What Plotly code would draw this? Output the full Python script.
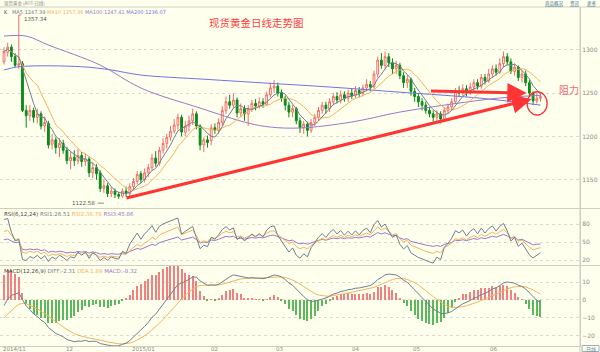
import numpy as np
import plotly.graph_objects as go

# ---------------- data ----------------
opens = [1286,1297,1303,1292,1282,1284,1230,1224,1230,1222,1226,1212,1215,1191,1196,1187,1192,1184,1172,1176,
         1172,1178,1171,1174,1158,1164,1158,1140,1143,1134,1137,1133,1131,1137,1134,1142,1148,1157,1150,1158,
         1164,1175,1169,1184,1192,1199,1206,1213,1222,1205,1212,1218,1226,1212,1190,1196,1195,1210,1207,1216,
         1230,1240,1236,1242,1227,1232,1226,1232,1238,1235,1240,1237,1248,1256,1258,1250,1244,1236,1228,1232,
         1218,1210,1214,1207,1216,1222,1230,1236,1232,1240,1246,1242,1248,1244,1250,1247,1253,1250,1256,1260,
         1257,1272,1288,1282,1292,1285,1278,1282,1270,1262,1266,1252,1246,1240,1236,1230,1226,1222,1226,1220,
         1230,1234,1240,1252,1250,1255,1250,1257,1262,1258,1268,1264,1272,1278,1274,1284,1292,1286,1275,1280,
         1268,1272,1262,1250,1241,1244]
highs = [1303,1308,1306,1296,1340,1287,1236,1236,1233,1232,1229,1223,1218,1203,1199,1198,1196,1188,1182,1184,
         1186,1182,1180,1177,1170,1168,1161,1150,1146,1142,1140,1136,1140,1142,1146,1152,1160,1160,1163,1168,
         1180,1183,1188,1198,1203,1212,1220,1226,1225,1218,1224,1232,1229,1214,1199,1201,1214,1215,1221,1235,
         1246,1248,1250,1245,1238,1236,1236,1242,1243,1245,1244,1252,1262,1265,1262,1254,1247,1240,1236,1234,
         1222,1218,1217,1220,1226,1234,1240,1240,1244,1250,1251,1253,1252,1254,1255,1258,1257,1260,1266,1264,
         1276,1292,1296,1298,1296,1290,1287,1285,1274,1271,1268,1256,1250,1244,1240,1234,1230,1230,1229,1234,
         1238,1244,1256,1258,1260,1259,1262,1266,1266,1272,1272,1278,1282,1283,1290,1298,1296,1290,1284,1282,
         1276,1276,1265,1252,1250,1249]
lows = [1283,1292,1286,1280,1278,1228,1210,1218,1216,1215,1208,1205,1186,1185,1180,1176,1180,1168,1162,1166,
        1168,1165,1166,1153,1152,1150,1136,1135,1130,1130,1129,1128,1129,1130,1131,1138,1145,1146,1147,1153,
        1160,1165,1166,1180,1186,1195,1203,1208,1200,1200,1206,1213,1208,1184,1182,1187,1190,1203,1203,1212,
        1226,1232,1233,1222,1222,1218,1212,1228,1230,1232,1233,1235,1245,1250,1246,1240,1230,1222,1222,1214,
        1204,1203,1200,1204,1212,1218,1226,1226,1228,1236,1238,1238,1240,1240,1243,1244,1245,1246,1252,1252,
        1255,1268,1278,1278,1280,1272,1272,1266,1256,1256,1247,1240,1234,1230,1226,1222,1217,1216,1215,1217,
        1226,1230,1238,1246,1247,1246,1248,1252,1254,1255,1260,1262,1268,1270,1272,1280,1282,1272,1270,1264,
        1262,1258,1246,1236,1238,1240]
closes = [1298,1303,1292,1282,1284,1230,1224,1230,1222,1226,1212,1216,1190,1196,1187,1192,1184,1172,1176,1172,
          1178,1171,1174,1158,1164,1157,1140,1143,1134,1137,1133,1131,1137,1134,1142,1148,1156,1150,1158,1164,
          1175,1169,1184,1192,1199,1206,1213,1222,1205,1212,1218,1226,1212,1190,1196,1193,1210,1207,1216,1230,
          1240,1236,1242,1227,1232,1226,1232,1238,1235,1240,1237,1248,1256,1258,1250,1244,1236,1228,1232,1218,
          1210,1214,1207,1216,1222,1230,1236,1232,1240,1246,1242,1248,1244,1250,1247,1253,1250,1256,1260,1257,
          1272,1288,1282,1292,1285,1278,1282,1270,1262,1266,1252,1246,1240,1236,1230,1226,1222,1226,1220,1230,
          1234,1240,1252,1250,1255,1250,1257,1262,1258,1268,1264,1272,1278,1274,1284,1292,1286,1275,1280,1268,
          1272,1262,1250,1241,1244,1246]

# long moving averages (candle index, value)
ma100_idx = [0, 6, 12, 26, 37, 53, 66, 72, 80, 94, 107, 121, 134, 145]
ma100_val = [1315.7, 1315.7, 1305.4, 1282.3, 1255.8, 1232.7, 1215.4, 1210.8, 1209.7, 1216.6, 1228.1, 1237.3, 1244.3, 1247.4]
ma200_idx = [0, 4, 21, 29, 37, 54, 72, 88, 107, 129, 145]
ma200_val = [1276.6, 1280.4, 1280.4, 1276.6, 1270.8, 1266.0, 1261.2, 1257.0, 1251.0, 1244.0, 1236.1]

# indicator state just before the first candle
ema_seed = {12: 1252.7, 26: 1260.0}
dea_seed = -11.75
rsi_seed = {6: (7.0, 8.0), 12: (5.4, 8.0), 24: (4.3, 8.0)}

month_pos = [0.8, 17.8, 37.6, 56.8, 74.5, 94.9, 111.6, 132.2]
month_txt = ["2014/11", "12", "2015/01", "02", "03", "04", "05", "06"]

price_ticks = [1300, 1250, 1200, 1150]
rsi_ticks = [80, 50, 20]
macd_ticks = [10, 0, -10, -20]

# annotation anchors (candle index, price)
long_arrow = [(32.7, 1128.5), (142.6, 1243.0)]
flat_arrow = [(115.0, 1252.3), (141.3, 1250.0)]
circle_box = [(141.4, 1224.7), (146.8, 1251.5)]

# ---------------- indicators ----------------
N = len(closes)
idx = np.arange(N)
c = np.array(closes, float)
ma5 = np.array([c[max(0, k-4):k+1].mean() for k in range(N)])
ma10 = np.array([c[max(0, k-9):k+1].mean() for k in range(N)])

def sma_cn(x, n, prev):
    out = np.zeros_like(x)
    for k in range(len(x)):
        prev = (x[k] + (n - 1) * prev) / n
        out[k] = prev
    return out

prev_close = np.concatenate([[c[0]], c[:-1]])
d = c - prev_close
def rsi(n):
    up = sma_cn(np.maximum(d, 0), n, rsi_seed[n][0])
    tot = sma_cn(np.abs(d), n, rsi_seed[n][1])
    return up / tot * 100

rsi1, rsi2, rsi3 = rsi(6), rsi(12), rsi(24)

def ema(x, n, prev):
    out = np.zeros_like(x)
    a = 2.0 / (n + 1)
    for k in range(len(x)):
        prev = a * x[k] + (1 - a) * prev
        out[k] = prev
    return out

dif = ema(c, 12, ema_seed[12]) - ema(c, 26, ema_seed[26])
dea = ema(dif, 9, dea_seed)
macd = 2 * (dif - dea)

# ---------------- figure ----------------
BG = "#FFFFEE"
C_MA5 = "#6f8090"
C_MA10 = "#f5b25e"
C_MA100 = "#9a78c8"
C_MA200 = "#6f74e0"
UP = "#f26d6d"
DN = "#0b8a1a"
FONT = "DejaVu Sans"
CJK = "Noto Sans CJK SC"

fig = go.Figure()
fig.add_trace(go.Candlestick(x=idx, open=opens, high=highs, low=lows, close=closes,
                             increasing=dict(line=dict(color=UP, width=1), fillcolor=BG),
                             decreasing=dict(line=dict(color=DN, width=1), fillcolor=DN),
                             whiskerwidth=0, showlegend=False, hoverinfo="skip",
                             xaxis="x", yaxis="y"))
fig.add_trace(go.Scatter(x=ma200_idx, y=ma200_val, mode="lines", line=dict(color=C_MA200, width=1, shape="spline"),
                         showlegend=False, xaxis="x", yaxis="y"))
fig.add_trace(go.Scatter(x=ma100_idx, y=ma100_val, mode="lines", line=dict(color=C_MA100, width=1, shape="spline"),
                         showlegend=False, xaxis="x", yaxis="y"))
fig.add_trace(go.Scatter(x=idx, y=ma10, mode="lines", line=dict(color=C_MA10, width=1),
                         showlegend=False, xaxis="x", yaxis="y"))
fig.add_trace(go.Scatter(x=idx, y=ma5, mode="lines", line=dict(color=C_MA5, width=1),
                         showlegend=False, xaxis="x", yaxis="y"))

# RSI
fig.add_trace(go.Scatter(x=idx, y=rsi3, mode="lines", line=dict(color=C_MA100, width=1), showlegend=False, xaxis="x", yaxis="y2"))
fig.add_trace(go.Scatter(x=idx, y=rsi2, mode="lines", line=dict(color=C_MA10, width=1), showlegend=False, xaxis="x", yaxis="y2"))
fig.add_trace(go.Scatter(x=idx, y=rsi1, mode="lines", line=dict(color=C_MA5, width=1), showlegend=False, xaxis="x", yaxis="y2"))

# MACD
bar_cols = ["#f28080" if v >= 0 else "#5cb85c" for v in macd]
fig.add_trace(go.Bar(x=idx, y=macd, marker=dict(color=bar_cols, line=dict(width=0)), width=0.3,
                     showlegend=False, xaxis="x", yaxis="y3"))
fig.add_trace(go.Scatter(x=idx, y=dea, mode="lines", line=dict(color=C_MA10, width=1), showlegend=False, xaxis="x", yaxis="y3"))
fig.add_trace(go.Scatter(x=idx, y=dif, mode="lines", line=dict(color=C_MA5, width=1), showlegend=False, xaxis="x", yaxis="y3"))

W, H = 600, 352
def py(p):
    return 1 - p / H

grid = dict(showgrid=True, gridcolor="#dcdccc", griddash="dot", gridwidth=1, zeroline=False,
            side="right", ticks="", tickfont=dict(size=6, color="#8a8a8a", family=FONT),
            showline=True, linecolor="#cfcfc0", linewidth=1, fixedrange=True)

fig.update_layout(
    width=W, height=H, margin=dict(l=0, r=0, t=0, b=0),
    paper_bgcolor=BG, plot_bgcolor=BG, bargap=0,
    xaxis=dict(domain=[0, 580 / W], range=[-1.08, 155.68], anchor="y3", showgrid=False, zeroline=False,
               showticklabels=False, ticks="",
               showline=True, linecolor="#cfcfc0", rangeslider=dict(visible=False), fixedrange=True),
    yaxis=dict(domain=[py(208), py(7)], range=[1117.4, 1349.3], tickvals=price_ticks, **grid),
    yaxis2=dict(domain=[py(265), py(209)], range=[11.7, 105], tickvals=rsi_ticks, **grid),
    yaxis3=dict(domain=[py(346), py(266)], range=[-25.6, 18.9], tickvals=macd_ticks, **grid),
)

shapes = []
for yy in [7, 208.5, 265.5]:
    shapes.append(dict(type="line", xref="paper", yref="paper", x0=0, x1=1, y0=py(yy), y1=py(yy),
                       line=dict(color="#cfcfc0", width=1)))
shapes.append(dict(type="line", xref="paper", yref="paper", x0=580 / W, x1=580 / W, y0=0, y1=py(7),
                   line=dict(color="#cfcfc0", width=1)))
shapes.append(dict(type="rect", xref="paper", yref="paper", x0=582 / W, x1=599 / W, y0=py(351.5), y1=py(345.5),
                   line=dict(color="#9ab0c0", width=1)))
shapes.append(dict(type="line", xref="x", yref="y", x0=4, x1=4.7, y0=1340, y1=1340, line=dict(color=UP, width=1)))
shapes.append(dict(type="line", xref="x", yref="y", x0=25.3, x1=27.0, y0=1123, y1=1123, line=dict(color="#888", width=1)))
shapes.append(dict(type="circle", xref="x", yref="y", x0=circle_box[0][0], x1=circle_box[1][0],
                   y0=circle_box[0][1], y1=circle_box[1][1], line=dict(color="#ff3030", width=1.3)))
fig.update_layout(shapes=shapes)

ann = []
def txt(x, y, s, size=6, color="#555", xanchor="left", xref="paper", yref="paper", family=FONT, yanchor="middle"):
    ann.append(dict(x=x, y=y, xref=xref, yref=yref, text=s, showarrow=False, xanchor=xanchor, yanchor=yanchor,
                    font=dict(size=size, color=color, family=family)))

txt(2 / W, py(3.2), "现货黄金 (AUT-日线)", size=4.5, color="#8a8a8a", family=CJK)
txt(543 / W, py(3.2), "<u>商品概况</u>", size=4.5, color="#4a7a9a", family=CJK)
txt(568 / W, py(3.2), "<u>资讯</u>", size=4.5, color="#4a7a9a", family=CJK)
txt(585 / W, py(3.2), "<u>更多</u>", size=4.5, color="#4a7a9a", family=CJK)
txt(2 / W, py(11.6),
    "K&nbsp;&nbsp;&nbsp;<span style='color:%s'>MA5:1247.39</span>&nbsp;<span style='color:%s'>MA10:1257.36</span>&nbsp;"
    "<span style='color:%s'>MA100:1247.41</span>&nbsp;<span style='color:%s'>MA200:1236.07</span>" % (C_MA5, C_MA10, C_MA100, C_MA200),
    size=5, color="#444")
txt(2 / W, py(214),
    "RSI(6,12,24)&nbsp;<span style='color:%s'>RSI1:26.51</span>&nbsp;<span style='color:%s'>RSI2:36.78</span>&nbsp;"
    "<span style='color:%s'>RSI3:45.86</span>" % (C_MA5, C_MA10, C_MA100), size=5.5, color="#444")
txt(2 / W, py(271),
    "MACD(12,26,9)&nbsp;<span style='color:%s'>DIFF:-2.31</span>&nbsp;<span style='color:%s'>DEA:1.89</span>&nbsp;"
    "<span style='color:%s'>MACD:-8.32</span>" % (C_MA5, C_MA10, C_MA100), size=5.5, color="#444")
txt(4.8, 1335.8, "1357.34", size=5.5, color="#555", xref="x", yref="y")
txt(25.2, 1122.8, "1122.58", size=5.5, color="#555", xanchor="right", xref="x", yref="y")
txt(207 / W, py(22), "现货黄金日线走势图", size=10.5, color="#ff4040", family=CJK)
txt(557 / W, py(90), "阻力", size=10, color="#f06878", family=CJK)
txt(590.5 / W, py(348.5), "日线", size=5, color="#6a8aa0", family=CJK, xanchor="center")
for p, t in zip(month_pos, month_txt):
    if t == "2014/11":
        txt(0.5 / W, py(349.2), t, size=5.5, color="#8a8a8a")
    else:
        txt(p, py(349.2), t, size=5.5, color="#8a8a8a", xref="x", xanchor="center")

for (tail, tip) in [long_arrow, flat_arrow]:
    ann.append(dict(x=tip[0], y=tip[1], ax=tail[0], ay=tail[1], xref="x", yref="y", axref="x", ayref="y",
                    showarrow=True, arrowhead=2, arrowsize=1.3, arrowwidth=3, arrowcolor="#ff3535", text=""))
fig.update_layout(annotations=ann)

fig.write_html("out.html")
